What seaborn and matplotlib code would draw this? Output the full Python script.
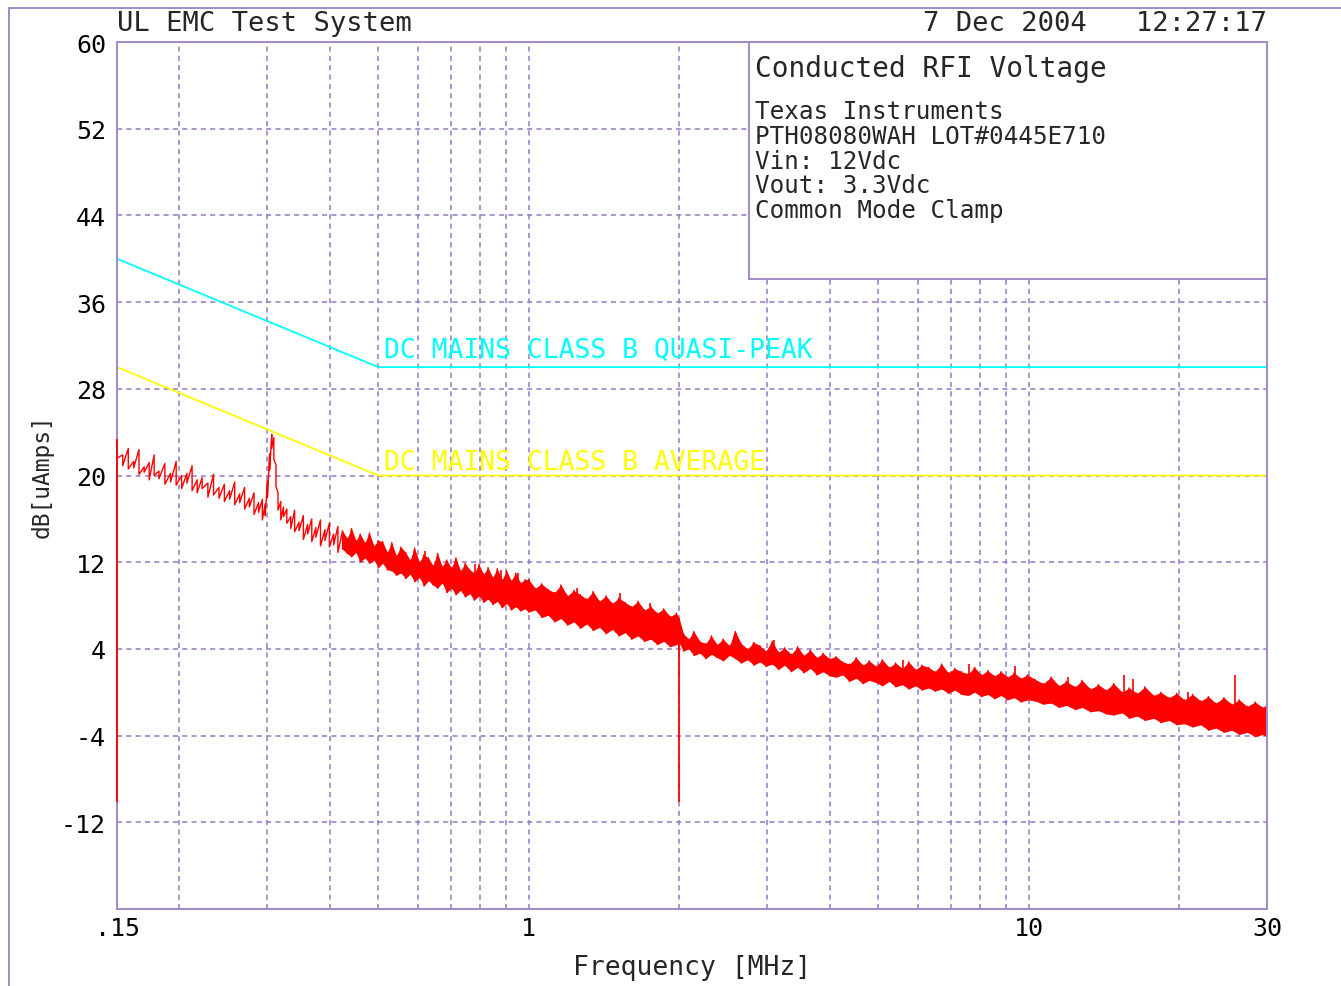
import matplotlib
matplotlib.use("Agg")

import matplotlib.pyplot as plt
import numpy as np
import pandas as pd
import seaborn as sns
from matplotlib.patches import Rectangle
from matplotlib.ticker import FixedLocator, NullFormatter

# ==========================================
# Data (read off the plotter output)
# ==========================================

LIMIT_FREQ = [0.15, 0.5, 30.0]
QP_LIMIT = [40.0, 30.0, 30.0]
AVG_LIMIT = [30.0, 20.0, 20.0]

# measured trace: upper / lower edge of the noisy sweep at each frequency
TRACE_FREQ = [
    0.150, 0.154, 0.158, 0.162, 0.166, 0.170, 0.174, 0.178, 0.182, 0.187,
    0.192, 0.197, 0.202, 0.207, 0.212, 0.217, 0.222, 0.228, 0.234, 0.240,
    0.246, 0.252, 0.258, 0.264, 0.270, 0.276, 0.282, 0.288, 0.293, 0.297,
    0.300, 0.303, 0.306, 0.309, 0.312, 0.315, 0.319, 0.323,
    0.328, 0.334, 0.340, 0.347, 0.354, 0.361, 0.368, 0.375, 0.383, 0.391,
    0.399, 0.407, 0.415, 0.424, 0.433, 0.442, 0.451, 0.460, 0.470, 0.480,
    0.490, 0.500, 0.510, 0.521, 0.532, 0.543, 0.555, 0.567, 0.579, 0.591,
    0.604, 0.617, 0.630, 0.643, 0.657, 0.671, 0.685, 0.700, 0.715, 0.730,
    0.746, 0.762, 0.778, 0.795, 0.812, 0.829, 0.847, 0.865, 0.884, 0.903,
    0.922, 0.942, 0.962, 0.983,
    1.000, 1.030, 1.061, 1.093, 1.126, 1.160, 1.195, 1.231, 1.268, 1.306,
    1.345, 1.385, 1.427, 1.470, 1.514, 1.559, 1.606, 1.654, 1.704, 1.755,
    1.808, 1.862, 1.918, 1.975, 2.000,
    2.04, 2.09, 2.14, 2.20, 2.26, 2.32, 2.38, 2.45, 2.52, 2.59,
    2.66, 2.74, 2.82, 2.90, 2.98, 3.07, 3.16, 3.25, 3.35, 3.45,
    3.55, 3.66, 3.77, 3.88, 4.00,
    4.12, 4.25, 4.38, 4.52, 4.66, 4.80, 4.95, 5.10, 5.26, 5.42,
    5.59, 5.76, 5.94, 6.12, 6.31, 6.50, 6.70, 6.91, 7.12, 7.34,
    7.57, 7.80, 8.04, 8.29, 8.55, 8.81, 9.08, 9.36, 9.65, 9.95,
    10.3, 10.7, 11.1, 11.5, 11.9, 12.4, 12.8, 13.3, 13.8, 14.3,
    14.8, 15.4, 15.9, 16.5, 17.1, 17.8, 18.4, 19.1, 19.8, 20.5,
    21.3, 22.1, 22.9, 23.7, 24.6, 25.5, 26.4, 27.4, 28.4, 29.4, 30.0,
]
TRACE_HI = [
    23.4, 21.9, 22.5, 21.3, 22.4, 20.8, 21.2, 21.9, 20.4, 21.1,
    20.2, 21.3, 20.0, 20.2, 20.9, 19.6, 19.8, 19.3, 20.1, 18.9,
    19.2, 18.6, 19.4, 18.3, 18.9, 17.9, 18.4, 17.5, 17.8, 17.4,
    19.5, 22.0, 23.8, 23.5, 21.0, 18.4, 17.6, 17.1,
    16.9, 16.2, 16.8, 15.7, 16.3, 15.5, 16.0, 15.2, 15.9, 15.0,
    15.6, 14.6, 15.3, 14.9, 14.2, 15.1, 14.0, 14.6, 13.8, 14.7,
    13.5, 14.0, 13.9, 12.9, 13.8, 12.6, 13.4, 12.9, 12.2, 13.3,
    12.0, 12.7, 12.4, 11.7, 12.8, 11.6, 12.2, 11.5, 12.4, 11.2,
    11.9, 11.3, 11.0, 11.8, 10.9, 11.5, 10.6, 11.4, 10.4, 11.2,
    10.3, 11.0, 10.1, 10.4,
    10.4, 9.6, 10.0, 9.5, 9.2, 9.9, 8.9, 9.4, 9.0, 8.6,
    9.3, 8.4, 8.9, 8.2, 8.7, 8.3, 7.9, 8.4, 7.6, 7.9,
    7.3, 7.7, 7.0, 7.3, 6.8,
    5.4, 4.9, 5.6, 4.7, 4.5, 5.2, 4.4, 4.9, 4.3, 5.6,
    4.5, 4.0, 4.6, 4.3, 3.8, 4.7, 3.7, 4.1, 3.5, 4.2,
    3.4, 3.9, 3.2, 3.6, 3.1,
    3.3, 2.8, 2.6, 3.2, 2.5, 2.9, 2.4, 3.0, 2.3, 2.7,
    2.2, 2.8, 2.1, 2.5, 2.3, 1.9, 2.6, 1.8, 2.2, 1.9,
    1.7, 2.3, 1.6, 2.0, 1.5, 1.9, 1.4, 1.8, 1.3, 1.6,
    1.2, 0.8, 1.4, 0.6, 1.0, 0.5, 1.1, 0.3, 0.7, 0.2,
    0.8, 0.0, 0.4, -0.1, 0.5, -0.3, 0.0, -0.5, -0.1, -0.7,
    -0.2, -0.8, -0.4, -1.0, -0.5, -1.1, -0.7, -1.3, -0.9, -1.4, -1.1,
]
TRACE_LO = [
    21.6, 20.9, 20.6, 20.7, 20.1, 20.3, 19.6, 20.0, 19.7, 19.2,
    19.4, 19.1, 18.8, 19.3, 18.6, 18.4, 18.8, 18.0, 18.2, 17.9,
    17.6, 17.8, 17.3, 17.5, 16.9, 17.1, 16.4, 16.6, 15.9, 16.3,
    18.0, 20.5, 22.5, 21.5, 19.0, 16.8, 15.9, 16.2,
    15.6, 15.1, 14.8, 14.9, 14.1, 14.6, 13.9, 14.3, 13.5, 14.0,
    13.4, 13.6, 12.9, 13.2, 12.8, 12.5, 12.9, 12.0, 12.4, 11.9,
    12.2, 11.5, 11.9, 11.3, 11.2, 10.8, 11.0, 10.5, 10.9, 10.2,
    10.6, 9.8, 10.3, 9.9, 9.6, 10.1, 9.2, 9.6, 9.0, 9.4,
    8.8, 9.1, 8.5, 8.9, 8.3, 8.6, 8.1, 8.4, 7.8, 8.2,
    7.6, 7.9, 7.5, 7.7,
    7.4, 7.6, 6.9, 7.1, 6.5, 6.8, 6.2, 6.5, 5.9, 6.3,
    5.7, 6.0, 5.4, 5.8, 5.2, 5.5, 4.9, 5.2, 4.7, 4.9,
    4.4, 4.7, 4.2, 4.4, 4.5,
    3.8, 4.0, 3.4, 3.6, 3.1, 3.5, 3.2, 2.9, 3.4, 3.1,
    2.7, 3.0, 2.5, 2.8, 2.4, 2.6, 2.1, 2.5, 1.9, 2.3,
    1.8, 2.2, 1.6, 1.9, 1.5,
    1.4, 1.6, 1.0, 1.3, 0.8, 1.1, 0.9, 0.6, 1.0, 0.5,
    0.7, 0.3, 0.6, 0.2, 0.4, 0.1, 0.3, -0.1, 0.2, -0.2,
    -0.3, 0.0, -0.4, -0.2, -0.6, -0.3, -0.7, -0.5, -0.9, -0.7,
    -0.8, -1.1, -1.0, -1.4, -1.2, -1.6, -1.4, -1.8, -1.7, -2.0,
    -2.1, -1.9, -2.4, -2.2, -2.6, -2.4, -2.8, -2.6, -3.0, -2.9,
    -3.2, -3.0, -3.5, -3.3, -3.7, -3.5, -3.9, -3.7, -4.1, -3.9, -4.1,
]

# narrow spurs sticking out of the noise floor
SPIKE_FREQ = [0.62, 0.78, 0.88, 0.95, 1.25, 1.52, 1.75, 2.60, 3.10,
              5.6, 7.6, 9.40, 12.0, 15.5, 16.2, 20.8, 25.9]
SPIKE_BASE = [10.5, 9.5, 9.0, 9.0, 7.5, 7.0, 6.0, 4.0, 3.0,
              1.5, 1.0, 0.8, 0.0, -0.8, -1.0, -1.5, -2.4]
SPIKE_TOP = [13.0, 11.8, 11.3, 11.0, 9.6, 9.2, 8.2, 5.5, 4.8,
             3.0, 2.6, 2.4, 1.4, 1.6, 1.2, 0.0, 1.6]

# sweep band edges where the trace drops out
DROP_FREQ = [0.15, 2.0]
DROP_TOP = [23.4, 6.8]
DROP_BOTTOM = [-10.1, -10.1]

Y_TICKS = [-20, -12, -4, 4, 12, 20, 28, 36, 44, 52, 60]
Y_LABELS = ["", "-12", "-4", "4", "12", "20", "28", "36", "44", "52", "60"]
X_TICKS = [0.15, 1, 10, 30]
X_LABELS = [".15", "1", "10", "30"]
X_GRID = [0.2, 0.3, 0.4, 0.5, 0.6, 0.7, 0.8, 0.9,
          2, 3, 4, 5, 6, 7, 8, 9, 20]

INFO_TITLE = "Conducted RFI Voltage"
INFO_LINES = [
    "Texas Instruments",
    "PTH08080WAH LOT#0445E710",
    "Vin: 12Vdc",
    "Vout: 3.3Vdc",
    "Common Mode Clamp",
]

# ==========================================
# Styling
# ==========================================

PURPLE = "#a08ac8"
GRID = "#9478c4"

sns.set_style("white")
plt.rcParams["font.family"] = ["DejaVu Sans Mono", "DejaVu Sans"]

fig = plt.figure(figsize=(13.41, 9.87), dpi=100)
ax = fig.add_axes([117 / 1341, 77 / 987, 1150 / 1341, 867 / 987])

# ==========================================
# Plot
# ==========================================

limits = pd.DataFrame({"freq": LIMIT_FREQ, "qp": QP_LIMIT, "avg": AVG_LIMIT})
sns.lineplot(data=limits, x="freq", y="qp", color="#00ffff", lw=1.3,
             sort=False, estimator=None, ax=ax, zorder=4)
sns.lineplot(data=limits, x="freq", y="avg", color="#ffff00", lw=1.3,
             sort=False, estimator=None, ax=ax, zorder=4)

freq = np.array(TRACE_FREQ)
hi = np.array(TRACE_HI)
lo = np.array(TRACE_LO)

# zig-zag through the upper and lower edge to mimic the noisy sweep
trace = pd.DataFrame({
    "freq": np.repeat(freq, 2),
    "level": np.column_stack([hi, lo]).ravel(),
})
sns.lineplot(data=trace, x="freq", y="level", color="red", lw=1.0,
             sort=False, estimator=None, ax=ax, zorder=5)

dense = freq >= 0.42
ax.fill_between(freq, lo, hi, where=dense, color="red", lw=0, zorder=5)

ax.vlines(SPIKE_FREQ, SPIKE_BASE, SPIKE_TOP, color="red", lw=1.2, zorder=5)
ax.vlines(DROP_FREQ, DROP_BOTTOM, DROP_TOP, color="red", lw=1.3, zorder=7,
          clip_on=False)

ax.set_xscale("log")
ax.set_xlim(0.15, 30)
ax.set_ylim(-20, 60)

ax.xaxis.set_major_locator(FixedLocator(X_TICKS))
ax.set_xticklabels(X_LABELS)
ax.xaxis.set_minor_locator(FixedLocator(X_GRID))
ax.xaxis.set_minor_formatter(NullFormatter())
ax.set_yticks(Y_TICKS)
ax.set_yticklabels(Y_LABELS)

ax.tick_params(axis="both", which="both", length=0, labelsize=18,
               colors="black")
ax.tick_params(axis="x", pad=5)
ax.tick_params(axis="y", pad=8)

ax.grid(True, which="both", color=GRID, lw=1.1, linestyle=(0, (3.3, 2.8)))
ax.set_axisbelow(True)

for spine in ax.spines.values():
    spine.set_color(PURPLE)
    spine.set_linewidth(1.4)
    spine.set_zorder(6)

ax.set_xlabel("Frequency [MHz]", fontsize=19)
ax.xaxis.label.set_va("center")
ax.xaxis.set_label_coords(0.5, -58 / 867)

ax.set_ylabel("dB[uAmps]", fontsize=16.5)
ax.yaxis.label.set_va("center")
ax.yaxis.set_label_coords(-75 / 1150, 0.5)

# limit labels
ax.annotate("DC MAINS CLASS B QUASI-PEAK", xy=(0.5, 30), xytext=(4, 3),
            textcoords="offset points", color="#00ffff", fontsize=19,
            va="bottom", ha="left", zorder=4)
ax.annotate("DC MAINS CLASS B AVERAGE", xy=(0.5, 20), xytext=(4, 0.5),
            textcoords="offset points", color="#ffff00", fontsize=19,
            va="bottom", ha="left", zorder=4)

# info box
box_x0 = (749 - 117) / 1150
box_y0 = (910 - 280) / 867
ax.add_patch(Rectangle((box_x0, box_y0), 1 - box_x0, 1 - box_y0,
                       transform=ax.transAxes, facecolor="white",
                       edgecolor=PURPLE, lw=1.4, zorder=7, clip_on=False))
text_x = (755 - 117) / 1150
ax.text(text_x, (910 - 69) / 867, INFO_TITLE, transform=ax.transAxes,
        fontsize=20, va="center", ha="left", zorder=8)
for i, line in enumerate(INFO_LINES):
    y_px = 112 + 24.8 * i
    ax.text(text_x, (910 - y_px) / 867, line, transform=ax.transAxes,
            fontsize=17.5, va="center", ha="left", zorder=8)

# header
fig.text(117 / 1341, 1 - 24 / 987, "UL EMC Test System", fontsize=19.5,
         ha="left", va="center")
fig.text(1267 / 1341, 1 - 24 / 987, "7 Dec 2004   12:27:17", fontsize=19.5,
         ha="right", va="center")

# plotter page frame
fig.add_artist(Rectangle((9 / 1341, -0.05), 1.2, (987 - 9) / 987 + 0.05,
                         transform=fig.transFigure, fill=False,
                         edgecolor=PURPLE, lw=1.4, clip_on=False))

fig.savefig("out.png", dpi=100)
